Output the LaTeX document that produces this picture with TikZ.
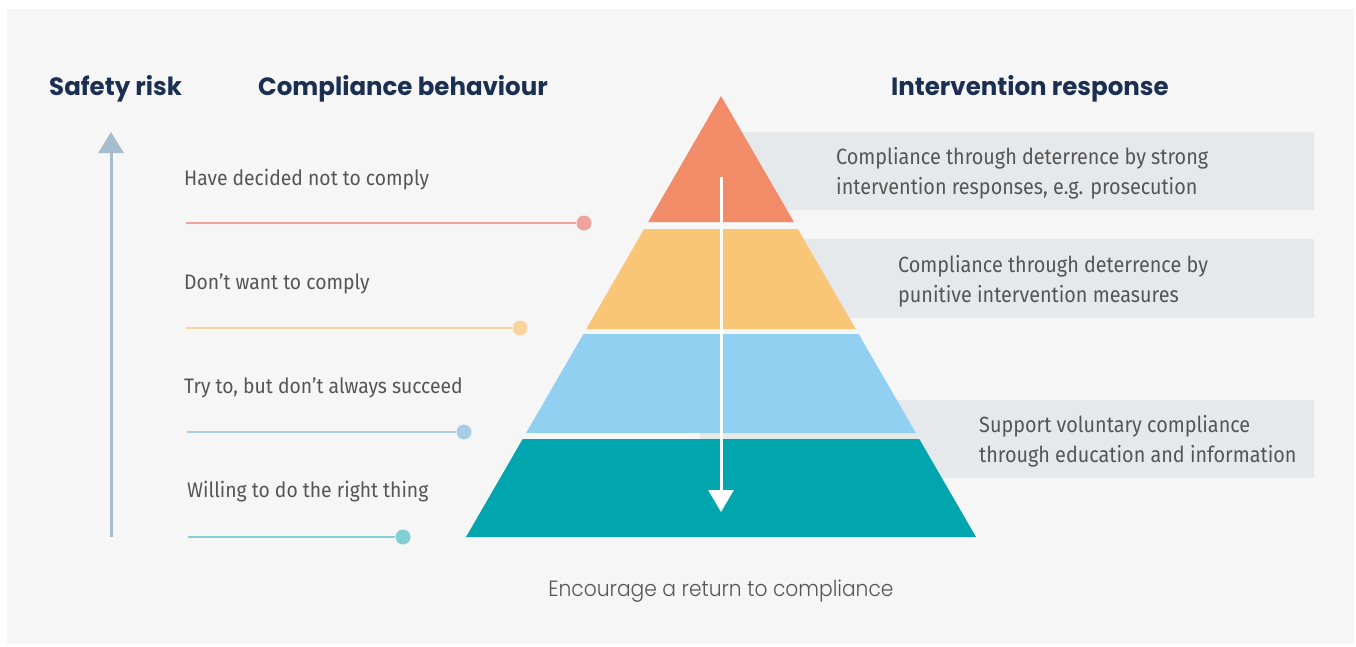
\documentclass[tikz,border=0pt]{standalone}
\usepackage{fontspec}
\setmainfont{Fira Sans}[FakeStretch=0.92]
\newfontfamily\boxfont{Fira Sans}[FakeStretch=0.90]
\newfontfamily\headfont{Poppins}[FakeStretch=0.98]
\newfontfamily\lightfont{Poppins Light}[FakeStretch=0.92]
\usetikzlibrary{arrows.meta}
\definecolor{bg}{HTML}{F6F6F6}
\definecolor{boxgray}{HTML}{E6E9EC}
\definecolor{navy}{HTML}{1B2F52}
\definecolor{txt}{HTML}{555555}
\definecolor{c1}{HTML}{F28B68}
\definecolor{c2}{HTML}{F9C678}
\definecolor{c3}{HTML}{92D0F2}
\definecolor{c4}{HTML}{00A5AE}
\definecolor{l1}{HTML}{F0A29C}
\definecolor{l2}{HTML}{F9D49C}
\definecolor{l3}{HTML}{A9CDE6}
\definecolor{l4}{HTML}{80CFD3}
\definecolor{axis}{HTML}{A7BCCF}
\tikzset{
  heading/.style={anchor=base west, inner sep=0pt, text=navy, font=\headfont\bfseries\fontsize{25}{30}\selectfont},
  label/.style={anchor=base west, inner sep=0pt, text=txt, font=\fontsize{21}{25}\selectfont},
  boxtext/.style={anchor=base west, inner sep=0pt, text=txt, align=left, font=\boxfont\fontsize{22}{30}\selectfont},
  dot/.style={circle, inner sep=0pt, minimum size=15pt},
  conn/.style={line width=2pt},
  graybox/.style={fill=boxgray, draw=none},
}
\begin{document}
\begin{tikzpicture}[x=1pt, y=-1pt]
\useasboundingbox (0,0) rectangle (1356,646);
\fill[white] (0,0) rectangle (1356,646);
\fill[bg] (7,9) rectangle (1354,644);

% headings
\node[heading] (h1) at (49,95) {Safety risk};
\node[heading] (h2) at (258,95) {Compliance behaviour};
\node[heading] (h3) at (891,95) {Intervention response};

% gray boxes
\fill[graybox] (700,132) rectangle (1314,210);
\fill[graybox] (700,239) rectangle (1314,318);
\fill[graybox] (700,400) rectangle (1314,478);

% pyramid bands (half width = (y-96)*0.5782)
\fill[c1] (721,96) -- (793.9,222) -- (648.1,222) -- cycle;
\fill[c2] (644.1,229) -- (797.9,229) -- (855.7,329) -- (586.3,329) -- cycle;
\fill[c3] (583.4,334) -- (858.6,334) -- (915.9,433) -- (526.1,433) -- cycle;
\fill[c4] (522.7,439) -- (919.3,439) -- (976.0,537) -- (466.0,537) -- cycle;

% downward arrow
\coordinate (as) at (721,177);
\coordinate (ae) at (721,512);
\draw[white, line width=3pt, -{Triangle[width=25pt,length=22pt]}] (as) -- (ae);

% box texts (base = last line)
\node[boxtext] (b1) at (836,194) {Compliance through deterrence by strong\\intervention responses, e.g. prosecution};
\node[boxtext] (b2) at (898,302) {Compliance through deterrence by\\punitive intervention measures};
\node[boxtext] (b3) at (979,462) {Support voluntary compliance\\through education and information};

% safety risk axis
\coordinate (ax0) at (111,537);
\coordinate (ax1) at (111,132);
\draw[axis, line width=3pt, -{Triangle[width=25pt,length=21pt]}] (ax0) -- (ax1);

% behaviour labels and connectors
\node[label] (t1) at (184,185) {Have decided not to comply};
\node[label] (t2) at (184,289) {Don’t want to comply};
\node[label] (t3) at (184,393) {Try to, but don’t always succeed};
\node[label] (t4) at (187,497) {Willing to do the right thing};

\node[dot, fill=l1] (d1) at (584,223) {};
\node[dot, fill=l2] (d2) at (520,328) {};
\node[dot, fill=l3] (d3) at (464,432) {};
\node[dot, fill=l4] (d4) at (403,537) {};
\coordinate (s1) at (186,223);
\coordinate (s2) at (186,328);
\coordinate (s3) at (187,432);
\coordinate (s4) at (188,537);
\draw[conn, l1] (s1) -- (d1);
\draw[conn, l2] (s2) -- (d2);
\draw[conn, l3] (s3) -- (d3);
\draw[conn, l4] (s4) -- (d4);

% bottom caption
\node[anchor=base, inner sep=0pt, text=txt, font=\lightfont\fontsize{22}{26}\selectfont] (cap) at (721,596) {Encourage a return to compliance};
\end{tikzpicture}
\end{document}
